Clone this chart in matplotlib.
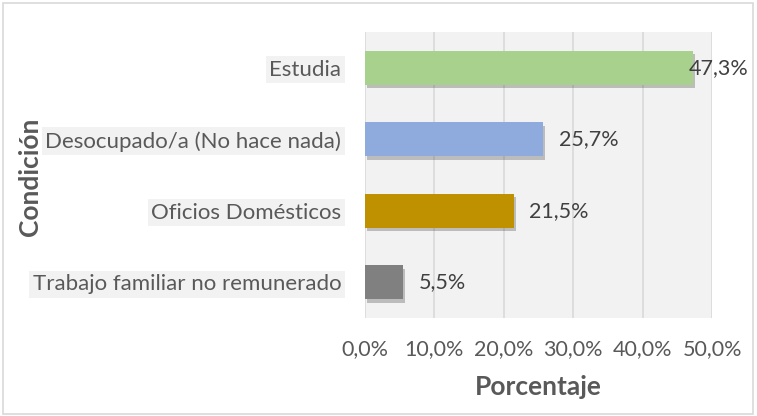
import matplotlib
matplotlib.use('Agg')
import numpy as np
from matplotlib import pyplot as plt
from matplotlib import patheffects as pe
from matplotlib.patches import Rectangle

categorias = ['Trabajo familiar no remunerado', 'Oficios Domésticos',
              'Desocupado/a (No hace nada)', 'Estudia']
valores = [5.5, 21.5, 25.7, 47.3]
colores = ['#808080', '#BF9000', '#8FAADC', '#A9D18E']
ticks_x = [0, 10, 20, 30, 40, 50]

plt.rcParams['font.family'] = ['Lato', 'DejaVu Sans']
txt = '#595959'

fig = plt.figure(figsize=(7.57, 4.16), dpi=100)
ax = fig.add_axes([0.482, 0.2356, 0.4586, 0.6874])
ax.set_facecolor('#F2F2F2')

y = np.arange(len(categorias))
bars = ax.barh(y, valores, height=0.48, color=colores, zorder=3)
for b in bars:
  b.set_path_effects([pe.SimplePatchShadow(offset=(1.5, -2.5), shadow_rgbFace='#404040', alpha=0.3), pe.Normal()])

for yi, v in zip(y, valores):
  off = -3 if v > 45 else 11
  ax.annotate(f'{v:.1f}%'.replace('.', ','), (v, yi), xytext=(off, 0),
              textcoords='offset points', va='center', ha='left',
              fontsize=15.5, color='#404040', zorder=4)

ax.set_xlim(0, 50)
ax.set_ylim(-0.5, len(categorias) - 0.5)
ax.set_xticks(ticks_x)
ax.set_xticklabels([f'{t:.1f}%'.replace('.', ',') for t in ticks_x], fontsize=15.5, color=txt)
ax.set_yticks(y)
ax.set_yticklabels(categorias, fontsize=16, color=txt)
for lab in ax.get_yticklabels():
  lab.set_bbox(dict(facecolor='#F2F2F2', edgecolor='none', pad=2.5))
ax.tick_params(axis='both', length=0)
ax.tick_params(axis='x', pad=15)
ax.tick_params(axis='y', pad=17)
ax.grid(True, axis='x', color='#D9D9D9', linewidth=1.2, zorder=0)
ax.set_axisbelow(True)
for s in ax.spines.values():
  s.set_visible(False)

fig.text(0.040, 0.574, 'Condición', rotation=90, ha='center', va='center',
         fontsize=19, fontweight='bold', color=txt)
fig.text(0.711, 0.07, 'Porcentaje', ha='center', va='center',
         fontsize=19, fontweight='bold', color=txt)

fig.patches.append(Rectangle((0.004, 0.006), 0.991, 0.987, transform=fig.transFigure,
                             fill=False, edgecolor='#D9D9D9', linewidth=1.2))

fig.savefig('out.png', dpi=100)
